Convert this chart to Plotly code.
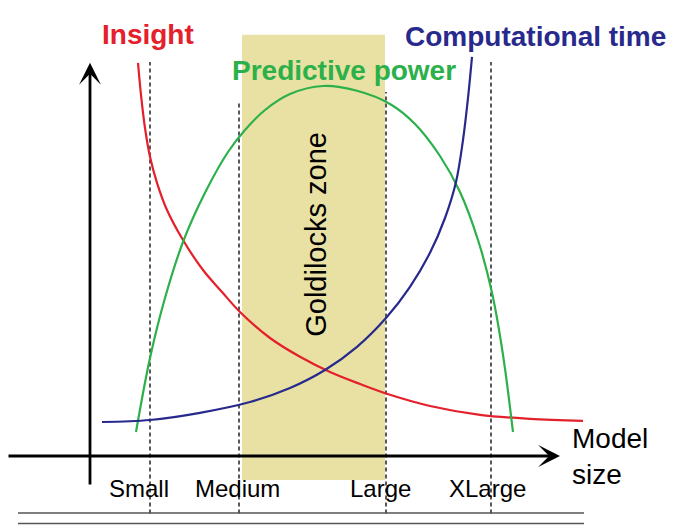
import plotly.graph_objects as go

# Curves (x = model size, y = arbitrary level)
insight_x = [0.96, 1.02, 1.1, 1.2, 1.34, 1.54, 1.86, 2.26, 2.64, 3.0, 3.6, 4.2, 4.8,
             5.4, 6.0, 6.8, 7.8, 8.8, 9.86]
insight_y = [9.83, 9.03, 8.2, 7.48, 6.83, 6.15, 5.4, 4.65, 4.1, 3.6, 2.95, 2.48, 2.1,
             1.8, 1.53, 1.25, 1.03, 0.93, 0.88]

power_x = [0.92, 1.2, 1.5, 1.86, 2.3, 2.76, 3.1, 3.5, 4.0, 4.66, 5.34, 6.0, 6.5,
           7.0, 7.4, 7.76, 8.04, 8.26, 8.46]
power_y = [0.6, 2.45, 3.95, 5.35, 6.58, 7.6, 8.15, 8.65, 9.05, 9.25, 9.13, 8.8, 8.3,
           7.5, 6.6, 5.4, 4.08, 2.53, 0.6]

comp_x = [0.24, 1.2, 2.2, 3.2, 4.0, 4.7, 5.34, 5.92, 6.4, 6.8, 7.1, 7.32, 7.46, 7.56, 7.64]
comp_y = [0.85, 0.9, 1.08, 1.35, 1.7, 2.15, 2.73, 3.45, 4.23, 5.08, 5.95, 6.85, 7.9, 8.95, 9.98]

# size markers on the x axis
size_labels = ['Small', 'Medium', 'Large', 'XLarge']
size_pos = [1.2, 2.98, 5.92, 8.02]
size_top = [9.85, 8.83, 9.1, 9.85]
label_pos = [0.98, 2.94, 5.8, 7.95]

zone = [3.04, 5.9]

RED = '#e3202b'
GREEN = '#2bb04a'
NAVY = '#28298c'
FONT = 'Liberation Sans, Arial, Helvetica, sans-serif'

fig = go.Figure()

# goldilocks zone background
fig.add_shape(type='rect', x0=zone[0], x1=zone[1], y0=-0.6, y1=10.53,
              fillcolor='#e9e1a3', line_width=0, layer='below')

for p, top in zip(size_pos, size_top):
    fig.add_trace(go.Scatter(x=[p, p], y=[-1.44, top], mode='lines',
                             line=dict(color='black', width=1.3, dash='4px,3px'),
                             hoverinfo='skip'))

for xs, ys, col in [(insight_x, insight_y, RED), (power_x, power_y, GREEN),
                    (comp_x, comp_y, NAVY)]:
    fig.add_trace(go.Scatter(x=xs, y=ys, mode='lines',
                             line=dict(color=col, width=2.2, shape='spline', smoothing=1.0),
                             hoverinfo='skip'))

# two rules at the bottom
for yy in [-1.425, -1.69]:
    fig.add_shape(type='line', x0=-1.44, x1=9.88, y0=yy, y1=yy,
                  line=dict(color='#555555', width=1.5))

# axes with arrow heads
arrow = dict(text='', showarrow=True, arrowhead=3, arrowsize=1.3, arrowwidth=2.8,
             arrowcolor='black', axref='x', ayref='y', xref='x', yref='y', standoff=0)
fig.add_annotation(x=9.4, y=0, ax=-1.66, ay=0, **arrow)
fig.add_annotation(x=0, y=9.83, ax=0, ay=-0.75, **arrow)

for lab, p in zip(size_labels, label_pos):
    fig.add_annotation(x=p, y=-0.8, text=lab, showarrow=False,
                       font=dict(family=FONT, size=24, color='black'))

fig.add_annotation(x=9.6, y=0.0, text='Model<br>size', showarrow=False, xanchor='left',
                   align='left', font=dict(family=FONT, size=28, color='black'))

fig.add_annotation(x=4.52, y=5.53, text='Goldilocks zone', showarrow=False, textangle=-90,
                   font=dict(family=FONT, size=29, color='black'))

for txt, xx, yy, col in [('Insight', 1.16, 10.53, RED),
                         ('Predictive power', 5.08, 9.65, GREEN),
                         ('Computational time', 8.9, 10.48, NAVY)]:
    fig.add_annotation(x=xx, y=yy, text='<b>' + txt + '</b>', showarrow=False,
                       font=dict(family=FONT, size=28, color=col))

# ranges offset a little because the page body adds an 8px margin
fig.update_layout(
    width=680, height=525,
    margin=dict(l=0, r=0, t=0, b=0),
    showlegend=False,
    plot_bgcolor='white', paper_bgcolor='white',
    xaxis=dict(range=[-1.64, 11.96], visible=False),
    yaxis=dict(range=[-1.925, 11.2], visible=False),
)

fig.write_html('out.html')
